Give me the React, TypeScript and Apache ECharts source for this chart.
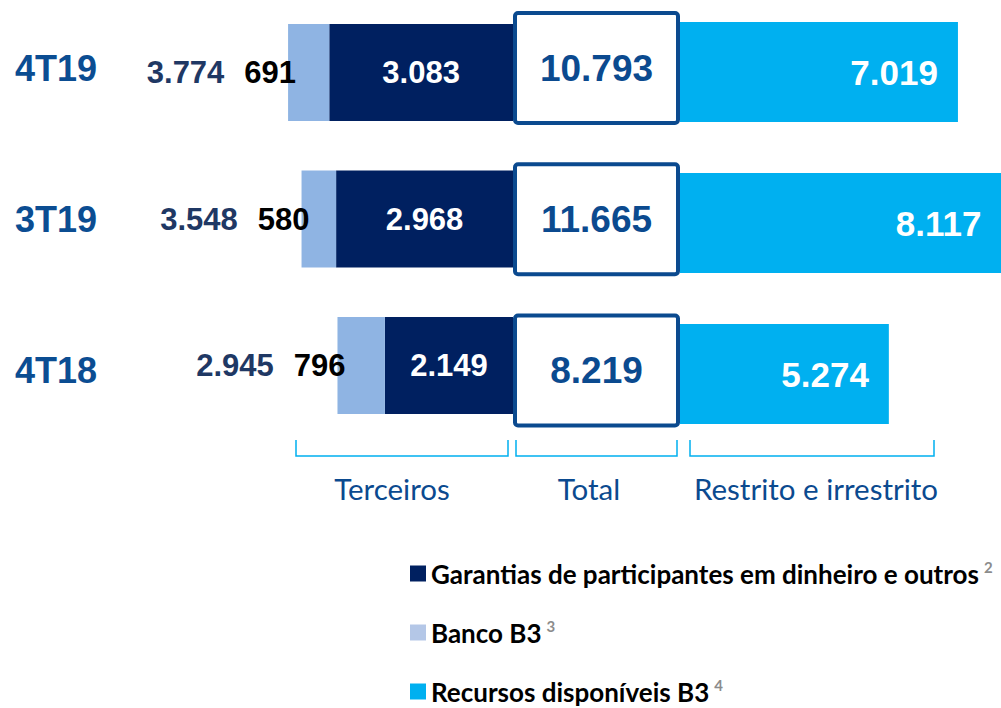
import React, { useEffect, useRef } from "react";
import * as echarts from "echarts";

// ---- data ----
const periods = ["4T19", "3T19", "4T18"];
const garantias = [3083, 2968, 2149];
const bancoB3 = [691, 580, 796];
const recursos = [7019, 8117, 5274];
const seriesNames = [
  "Garantias de participantes em dinheiro e outros",
  "Banco B3",
  "Recursos disponíveis B3",
];
const footnotes = ["2", "3", "4"];
const groupLabels = ["Terceiros", "Total", "Restrito e irrestrito"];

const terceiros = garantias.map((g, i) => g + bancoB3[i]);
const totals = terceiros.map((t, i) => t + recursos[i]);

const fmt = (v: number) =>
  Math.round(v)
    .toString()
    .replace(/\B(?=(\d{3})+(?!\d))/g, ".");

const NUM_FONT = "'Liberation Sans', Arial, sans-serif";
const TXT_FONT = "Lato, 'Open Sans', sans-serif";
const C_NAVY = "#002060";
const C_LIGHT = "#8fb4e3";
const C_CYAN = "#00b0f0";
const C_BLUE = "#0b4a8f";
const legendColors = [C_NAVY, "#b4c7e7", C_CYAN];

export default function App() {
  const ref = useRef<HTMLDivElement>(null);

  useEffect(() => {
    if (!ref.current) return;
    const chart = echarts.init(ref.current, undefined, { renderer: "svg" });

    const bracket = (x0: number, x1: number) => ({
      type: "polyline",
      shape: { points: [[x0, 440], [x0, 456], [x1, 456], [x1, 440]] },
      style: { stroke: C_CYAN, lineWidth: 1.5, fill: "none" },
    });
    const groupText = (x: number, text: string) => ({
      type: "text",
      x,
      y: 488,
      style: {
        text,
        fill: C_BLUE,
        fontSize: 29.5,
        fontFamily: TXT_FONT,
        align: "center",
        verticalAlign: "middle",
      },
    });

    const legendTops = [559, 618, 677];
    const legends = seriesNames.map((name, i) => ({
      orient: "vertical",
      left: 410,
      top: legendTops[i],
      padding: 0,
      itemWidth: 16,
      itemHeight: 16,
      icon: "rect",
      selectedMode: false,
      data: [{ name, itemStyle: { color: legendColors[i] } }],
      formatter: (n: string) => `${n}{sup|${footnotes[seriesNames.indexOf(n)]}}`,
      textStyle: {
        fontSize: 26,
        fontWeight: "bold",
        color: "#000",
        fontFamily: TXT_FONT,
        lineHeight: 22,
        rich: {
          sup: {
            fontSize: 15,
            color: "#8c8c8c",
            fontFamily: TXT_FONT,
            lineHeight: 22,
            padding: [0, 0, 14, 5],
          },
        },
      },
    }));

    const option: any = {
      animation: false,
      backgroundColor: "#ffffff",
      grid: [
        { left: 215, right: 1001 - 513, top: -0.75, height: 439.5, outerBoundsMode: "none" },
        { left: 513, right: 1001 - 680, top: -7.6, height: 453.75, outerBoundsMode: "none" },
        { left: 680, right: -75, top: -3.5, height: 453, outerBoundsMode: "none" },
      ],
      xAxis: [
        { gridIndex: 0, type: "value", min: 0, max: 5000, inverse: true, show: false },
        { gridIndex: 1, type: "value", min: 0, max: 1, show: false },
        { gridIndex: 2, type: "value", min: 0, max: 10000, show: false },
      ],
      yAxis: [
        { gridIndex: 0, type: "category", data: periods, inverse: true, show: false },
        {
          gridIndex: 1,
          type: "category",
          data: periods,
          inverse: true,
          axisLine: { show: false },
          axisTick: { show: false },
          splitLine: { show: false },
          axisLabel: {
            margin: 498,
            align: "left",
            fontSize: 36,
            fontWeight: "bold",
            fontFamily: NUM_FONT,
            color: "#0b4d92",
          },
        },
        { gridIndex: 2, type: "category", data: periods, inverse: true, show: false },
      ],
      legend: legends,
      series: [
        {
          name: seriesNames[0],
          type: "bar",
          xAxisIndex: 0,
          yAxisIndex: 0,
          stack: "left",
          barWidth: 97,
          data: garantias,
          itemStyle: { color: C_NAVY },
          label: {
            show: true,
            position: "inside",
            formatter: (p: any) => fmt(p.value),
            color: "#fff",
            fontSize: 31,
            fontWeight: "bold",
            fontFamily: NUM_FONT,
          },
        },
        {
          name: seriesNames[1],
          type: "bar",
          xAxisIndex: 0,
          yAxisIndex: 0,
          stack: "left",
          barWidth: 97,
          data: bancoB3,
          itemStyle: { color: C_LIGHT },
          label: {
            show: true,
            position: "left",
            distance: -8,
            formatter: (p: any) =>
              `{s|${fmt(terceiros[p.dataIndex])}}{g|}{v|${fmt(p.value)}}`,
            rich: {
              s: { fontSize: 31, fontWeight: "bold", color: "#1f3864", fontFamily: NUM_FONT },
              g: { width: 20 },
              v: { fontSize: 31, fontWeight: "bold", color: "#000", fontFamily: NUM_FONT },
            },
          },
        },
        {
          name: "Total",
          type: "custom",
          xAxisIndex: 1,
          yAxisIndex: 1,
          z: 5,
          encode: { x: 0, y: 1 },
          data: periods.map((_, i) => [0, i, totals[i]]),
          renderItem: (params: any, api: any) => {
            const cs = params.coordSys;
            const y = api.coord([0, api.value(1)])[1];
            const h = 110;
            return {
              type: "group",
              children: [
                {
                  type: "rect",
                  shape: { x: cs.x + 2, y: y - h / 2, width: cs.width - 4, height: h, r: 3 },
                  style: { fill: "#fff", stroke: C_BLUE, lineWidth: 4 },
                },
                {
                  type: "text",
                  x: cs.x + cs.width / 2,
                  y: y,
                  style: {
                    text: fmt(api.value(2)),
                    fill: C_BLUE,
                    fontSize: 37,
                    fontWeight: "bold",
                    fontFamily: NUM_FONT,
                    align: "center",
                    verticalAlign: "middle",
                  },
                },
              ],
            };
          },
        },
        {
          name: seriesNames[2],
          type: "bar",
          xAxisIndex: 2,
          yAxisIndex: 2,
          barWidth: 100,
          data: recursos,
          itemStyle: { color: C_CYAN },
          label: {
            show: true,
            position: "insideRight",
            distance: 20,
            formatter: (p: any) => fmt(p.value),
            color: "#fff",
            fontSize: 35,
            fontWeight: "bold",
            fontFamily: NUM_FONT,
          },
        },
      ],
      graphic: [
        bracket(296, 508),
        bracket(516, 677),
        bracket(690, 934),
        groupText(392, groupLabels[0]),
        groupText(589, groupLabels[1]),
        groupText(816, groupLabels[2]),
      ],
    };

    chart.setOption(option);
    return () => chart.dispose();
  }, []);

  return (
    <div
      ref={ref}
      style={{ position: "fixed", left: 0, top: 0, width: 1001, height: 708 }}
    />
  );
}
